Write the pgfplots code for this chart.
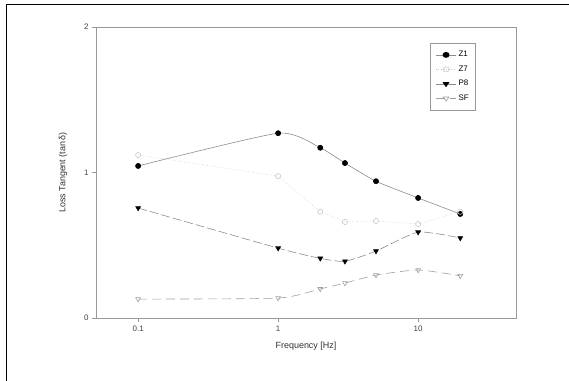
\documentclass[border=0pt]{standalone}
\usepackage{pgfplots}
\pgfplotsset{compat=1.18}
\usepackage{fontspec}
\setmainfont{Liberation Sans}
\usetikzlibrary{calc}
\definecolor{lnc}{gray}{0.55}
\definecolor{lightc}{gray}{0.78}
\definecolor{framec}{gray}{0.6}
\begin{document}
\begin{tikzpicture}
\begin{axis}[
  name=ax,
  scale only axis,
  width=420bp, height=291bp,
  xmode=log,
  xmin=0.05, xmax=50,
  ymin=0, ymax=2,
  xtick={0.1,1,10}, xticklabels={0.1,1,10},
  ytick={0,1,2},
  minor tick num=0,
  xminorticks=false,
  xtick pos=bottom, ytick pos=left,
  tick align=outside,
  tick style={framec},
  major tick length=4bp,
  axis line style={framec, line width=0.8pt},
  every axis plot/.append style={line width=0.6pt},
  tick label style={font=\fontsize{8}{9}\selectfont, text=black!75},
  xlabel={Frequency [Hz]}, ylabel={Loss Tangent (tan\,δ)},
  label style={font=\fontsize{9}{10}\selectfont, text=black!80},
  xlabel style={yshift=-4bp},
  ylabel style={yshift=10bp},
  /pgf/number format/assume math mode=true,
  legend style={at={(rel axis cs:0.905,0.945)}, anchor=north east,
    draw=framec, line width=0.8pt, font=\fontsize{8}{10}\selectfont,
    inner xsep=5bp, inner ysep=6bp, row sep=3.5bp},
  legend image post style={xscale=1.2},
  legend cell align=left,
]
\addplot[lnc, mark=*, mark options={solid, fill=black, draw=black}, mark size=2.6pt, smooth, tension=0.35]
 coordinates {(0.1,1.045) (1,1.27) (2,1.17) (3,1.065) (5,0.94) (10,0.825) (20,0.715)};
\addlegendentry{Z1}
\addplot[lightc, dotted, mark=o, mark options={solid, draw=lightc, fill=white}, mark size=2.6pt]
 coordinates {(0.1,1.12) (1,0.975) (2,0.73) (3,0.66) (5,0.667) (10,0.646) (20,0.73)};
\addlegendentry{Z7}
\addplot[lnc, dash pattern=on 9pt off 3pt, mark=triangle*, mark options={solid, fill=black, draw=black, rotate=180}, mark size=2.8pt, smooth, tension=0.35]
 coordinates {(0.1,0.756) (1,0.48) (2,0.41) (3,0.39) (5,0.46) (10,0.59) (20,0.55)};
\addlegendentry{P8}
\addplot[lightc!80!black, dash pattern=on 9pt off 5pt, mark=triangle, mark options={solid, draw=lightc!80!black, fill=white, rotate=180}, mark size=2.8pt, smooth, tension=0.35]
 coordinates {(0.1,0.13) (1,0.137) (2,0.2) (3,0.24) (5,0.295) (10,0.33) (20,0.29)};
\addlegendentry{SF}
\end{axis}
\useasboundingbox ($(ax.south west)+(-96bp,-63bp)$) rectangle ($(ax.north east)+(53bp,27bp)$);
\draw[black, line width=1pt] ($(ax.south west)+(-90bp,-63bp)$) -- ($(ax.north west)+(-90bp,22bp)$) -- ($(ax.north east)+(53bp,22bp)$);
\end{tikzpicture}
\end{document}
